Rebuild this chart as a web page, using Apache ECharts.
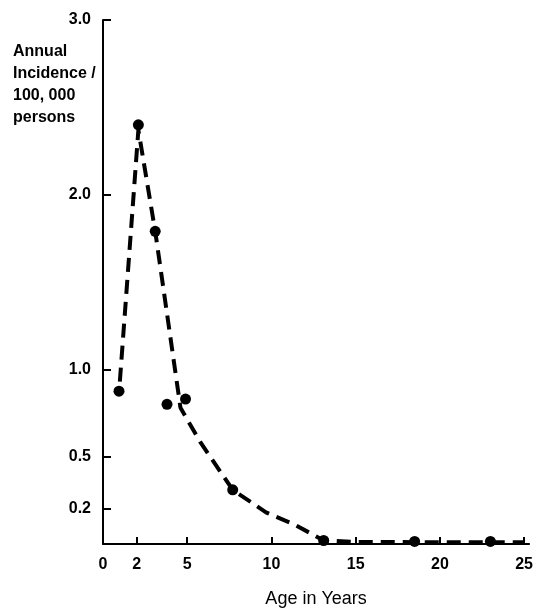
<!DOCTYPE html>
<html>
<head>
<meta charset="utf-8">
<script src="https://cdn.jsdelivr.net/npm/echarts@6/dist/echarts.min.js"></script>
<style>html,body{margin:0;padding:0;background:#fff;}#c{width:536px;height:613px;}</style>
</head>
<body>
<div id="c"></div>
<script>
// Observed data points (age in years, annual incidence per 100,000)
const ages = [0.95, 2.1, 3.1, 3.8, 4.9, 7.7, 13.1, 18.5, 23];
const incidence = [0.875, 2.4, 1.79, 0.8, 0.83, 0.31, 0.02, 0.015, 0.015];
// Dashed fitted curve
const curveAges = [1.0, 2.1, 3.1, 4.6, 5.8, 7.7, 9.7, 11.4, 13.1, 15, 20, 25];
const curveValues = [0.93, 2.37, 1.79, 0.78, 0.58, 0.31, 0.18, 0.11, 0.02, 0.012, 0.01, 0.01];
// Tick labels
const xTicks = [0, 2, 5, 10, 15, 20, 25];
const yTicks = [0.2, 0.5, 1.0, 2.0, 3.0];

const FONT = 'Liberation Sans';
const chart = echarts.init(document.getElementById('c'), null, {renderer: 'canvas'});
chart.setOption({
  backgroundColor: '#fff',
  animation: false,
  title: {
    text: 'Annual\nIncidence /\n100, 000\npersons',
    left: 8, top: 36,
    textStyle: {fontFamily: FONT, fontWeight: 'bold', fontSize: 16, lineHeight: 22, color: '#000'}
  },
  grid: {left: 103, right: 1, top: 20, bottom: 66, containLabel: false},
  xAxis: {
    type: 'value', min: 0, max: 25.3,
    name: 'Age in Years', nameLocation: 'middle', nameGap: 46,
    nameTextStyle: {fontFamily: FONT, fontSize: 18, color: '#000'},
    axisLine: {lineStyle: {color: '#000', width: 2}},
    axisTick: {inside: true, length: 7, lineStyle: {color: '#000', width: 2}, customValues: xTicks},
    axisLabel: {customValues: xTicks, margin: 13, fontFamily: FONT, fontWeight: 'bold', fontSize: 16, color: '#000'},
    splitLine: {show: false}
  },
  yAxis: {
    type: 'value', min: 0, max: 3,
    axisLine: {lineStyle: {color: '#000', width: 2}},
    axisTick: {inside: true, length: 8, lineStyle: {color: '#000', width: 2}, customValues: yTicks},
    axisLabel: {customValues: yTicks, margin: 12, fontFamily: FONT, fontWeight: 'bold', fontSize: 16, color: '#000',
      formatter: v => v.toFixed(1)},
    splitLine: {show: false}
  },
  series: [
    {
      type: 'line',
      data: curveAges.map((a, i) => [a, curveValues[i]]),
      showSymbol: false,
      lineStyle: {color: '#000', width: 4, type: [14, 8], opacity: 1},
      z: 2
    },
    {
      type: 'scatter',
      data: ages.map((a, i) => [a, incidence[i]]),
      symbol: 'circle', symbolSize: 11,
      itemStyle: {color: '#000', opacity: 1},
      z: 3
    }
  ]
});
</script>
</body>
</html>
